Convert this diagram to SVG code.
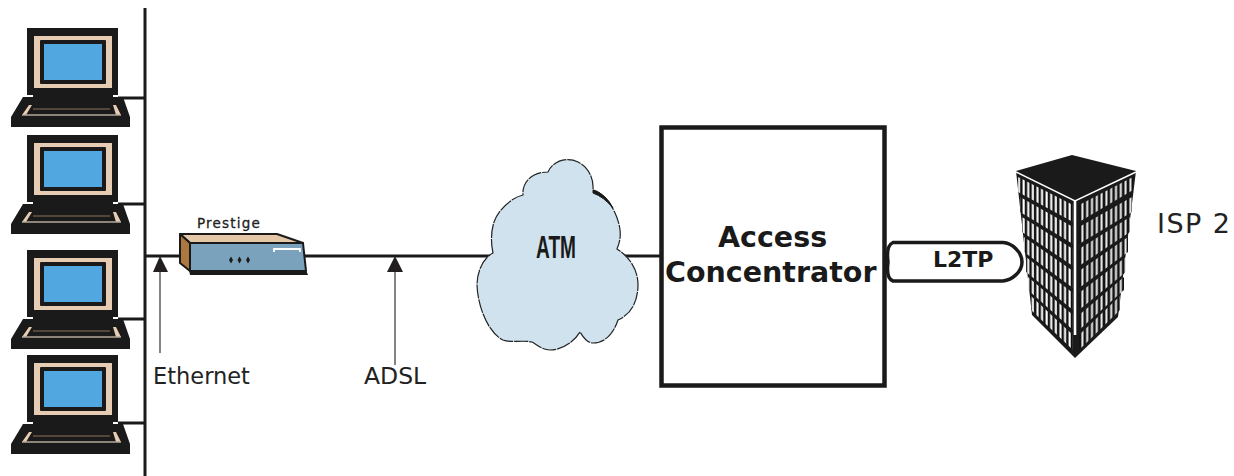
<svg xmlns="http://www.w3.org/2000/svg" width="1234" height="476" viewBox="0 0 1234 476">
<style>
.k{fill:#1a1a1a}
.w{stroke:#1a1a1a;stroke-width:3;fill:none}
.thin{stroke:#333;stroke-width:1.2;fill:none}
.head{fill:#231f20}
.t{font-family:"DejaVu Sans",sans-serif;fill:#222}
.b{font-family:"DejaVu Sans",sans-serif;font-weight:700;fill:#1a1a1a}
.fl{fill:url(#sl)}
.fr{fill:url(#sr)}
</style>
<defs>
<pattern id="sl" patternUnits="userSpaceOnUse" width="4.600" height="10"><rect width="4.600" height="10" fill="#111"/><rect x="1.400" width="2.100" height="10" fill="#fff"/></pattern>
<pattern id="sr" patternUnits="userSpaceOnUse" width="4.800" height="10"><rect width="4.800" height="10" fill="#111"/><rect x="1.400" width="2" height="10" fill="#f2f2f2"/></pattern>
<g id="pc">
<rect class="k" x="27" y="28" width="91" height="67"/>
<rect x="34" y="36" width="78" height="52" fill="#e6ccb2"/>
<rect class="k" x="40" y="40" width="66" height="44" rx="1"/>
<rect x="44" y="44" width="58" height="36" fill="#51a8e0"/>
<rect class="k" x="33" y="88" width="80" height="12"/>
<path class="k" d="M23 97H123L130 117V127H11V117Z"/>
<path d="M22 115L29 105H32L26 115ZM113 105H116L121 115H116Z" fill="#e6ccb2"/>
<path d="M33 109H110" stroke="#8a7358" stroke-width="1.200"/>
<path d="M22 115H121" stroke="#b5aa9a" stroke-width="1.600"/>
</g>
</defs>

<g id="connectors">
<path class="w" d="M145 8V476"/>
<path class="w" d="M118 98H145M118 204H145M118 319H145M118 423H145"/>
<path class="w" d="M145 256H185M300 256H495M610 256H662"/>
<path class="thin" d="M160 268V353M395 268V365"/>
<path class="head" d="M160 256L168 272H153Z"/>
<path class="head" d="M395 256L403 272H387Z"/>
</g>

<g id="pc1"><use href="#pc"/></g>
<g id="pc2"><use href="#pc" y="107"/></g>
<g id="pc3"><use href="#pc" y="222"/></g>
<g id="pc4"><use href="#pc" y="327"/></g>

<g id="router">
<path d="M180 234H277L303 243H190Z" fill="#e3c7a6" stroke="#1a1a1a" stroke-width="2" stroke-linejoin="round"/>
<path d="M180 234L190 243V271L180 263Z" fill="#ad7840" stroke="#1a1a1a" stroke-width="2" stroke-linejoin="round"/>
<path d="M190 243H303L306 271H190Z" fill="#7ba2bc" stroke="#1a1a1a" stroke-width="2" stroke-linejoin="round"/>
<path class="k" d="M189 270H306L308 275H190Z"/>
<path d="M274 252V249H300V252" fill="none" stroke="#fff" stroke-width="1.800"/>
<path class="k" d="M231 256.500L233 260L231 263.500L229 260ZM239.500 256.500L241.500 260L239.500 263.500L237.500 260ZM248 256.500L250 260L248 263.500L246 260Z"/>
<text class="t" x="197" y="228" font-size="13.500" letter-spacing="1.200" stroke="#222" stroke-width="0.300">Prestige</text>
</g>

<g id="atm">
<path d="M493 253C490 240 492 228 494 222C497 212 510 198 523 195C522 184 530 172 548 172C552 162 566 156 578 162C588 167 594 178 593 190C605 193 618 212 620 230C621 238 619 244 617 249C628 256 638 268 638 285C638 300 632 314 618 320C614 332 606 343 593 343C587 343 583 337 580 332C574 342 562 350 550 350C542 350 536 344 532 342C522 340 510 343 503 340C490 334 478 310 477 285C477 272 483 258 493 253Z" fill="#cfe2ee" stroke="#222" stroke-width="1.200" stroke-dasharray="14 1"/>
<path d="M593 190Q606 194 613 208Q604 197 593 193Z" fill="#1a1a1a" stroke="#1a1a1a" stroke-width="1"/>
<text x="536" y="258" font-size="32" font-weight="700" fill="#1a1a1a" textLength="40" lengthAdjust="spacingAndGlyphs" style="font-family:'Liberation Sans',sans-serif">ATM</text>
</g>

<g id="access-concentrator">
<rect x="661.500" y="127.500" width="223" height="258" fill="#fff" stroke="#1a1a1a" stroke-width="4.500"/>
<text class="b" x="718" y="247" font-size="28.500">Access</text>
<text class="b" x="665" y="282" font-size="28.500">Concentrator</text>
</g>

<g id="isp-building">
<path class="k" d="M1016 171L1072 155L1136 171L1118 317L1075 358L1032 315Z"/>
<path class="fl" d="M1018 177L1073 205V222L1018 192Z"/>
<path class="fl" d="M1020 197L1073 227V244L1020 212Z"/>
<path class="fl" d="M1022 217L1073 249V266L1022 232Z"/>
<path class="fl" d="M1024 237L1073 271V288L1024 252Z"/>
<path class="fl" d="M1026 257L1073 293V310L1026 272Z"/>
<path class="fl" d="M1028 277L1073 315V330L1028 290Z"/>
<path class="fl" d="M1031 296L1073 335V350L1031 310Z"/>
<path class="fr" d="M1079 205L1133 177V190L1079 222Z"/>
<path class="fr" d="M1079 227L1132 197V212L1079 244Z"/>
<path class="fr" d="M1079 249L1130 217V232L1079 266Z"/>
<path class="fr" d="M1079 271L1128 237V252L1079 288Z"/>
<path class="fr" d="M1079 293L1126 257V272L1079 310Z"/>
<path class="fr" d="M1079 315L1124 277V290L1079 330Z"/>
<path class="fr" d="M1079 335L1120 296V310L1079 350Z"/>
<path d="M1016 172L1075 201L1136 172" fill="none" stroke="#fff" stroke-width="1.400"/>
<path d="M1075 201V335" fill="none" stroke="#fff" stroke-width="2.600"/>
</g>

<g id="l2tp">
<path d="M893 242.500H1003C1012 243 1022 252 1022 262C1022 272 1012 280 1003 281H893C887 279 887 270 888 262C887 254 887 245 893 242.500Z" fill="#fff" stroke="#1a1a1a" stroke-width="3.500"/>
<text class="b" x="933" y="267" font-size="22">L2TP</text>
</g>

<g id="labels">
<text class="t" x="153" y="384" font-size="22.500">Ethernet</text>
<text class="t" x="364" y="384" font-size="23.500">ADSL</text>
<text class="t" x="1157" y="233" font-size="27" textLength="73">ISP 2</text>
</g>
</svg>
